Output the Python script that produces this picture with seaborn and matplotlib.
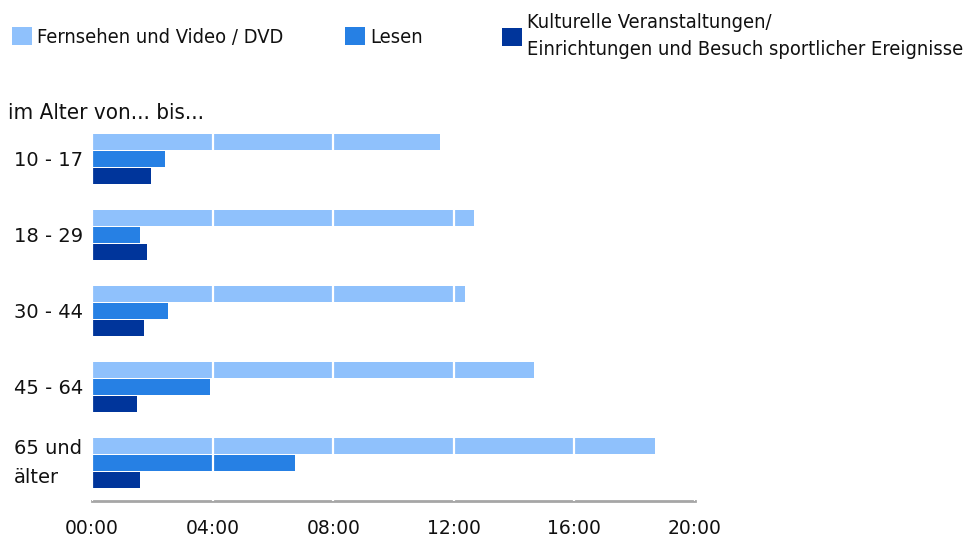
import matplotlib

matplotlib.use("Agg")

import matplotlib.pyplot as plt
import pandas as pd
import seaborn as sns
from matplotlib.font_manager import FontProperties

# Zeitverwendung pro Woche (Std:Min)
age_groups = ["10 - 17", "18 - 29", "30 - 44", "45 - 64", "65 und\nälter"]
activities = [
    "Fernsehen und Video / DVD",
    "Lesen",
    "Kulturelle Veranstaltungen/\nEinrichtungen und Besuch sportlicher Ereignisse",
]
tv_video = ["11:32", "12:40", "12:22", "14:39", "18:40"]
lesen = ["2:25", "1:35", "2:31", "3:55", "6:43"]
kultur = ["1:58", "1:49", "1:43", "1:29", "1:36"]
tick_hours = [0, 4, 8, 12, 16, 20]
colors = ["#8fc1fc", "#2680e4", "#00359b"]


def to_minutes(hhmm: str) -> int:
    h, m = hhmm.split(":")
    return int(h) * 60 + int(m)


def build_frame() -> pd.DataFrame:
    rows = []
    for activity, series in zip(activities, [tv_video, lesen, kultur]):
        for age, value in zip(age_groups, series):
            rows.append({"age": age, "activity": activity, "minutes": to_minutes(value)})
    return pd.DataFrame(rows)


sns.set_theme(style="white")
plt.rcParams["font.family"] = ["DejaVu Sans"]

legend_font = FontProperties(family="DejaVu Sans", stretch="condensed", size=14.4)
label_font = FontProperties(family="DejaVu Sans", stretch="condensed", size=16)

df = build_frame()
fig = plt.figure(figsize=(9.66, 5.37), dpi=100)
ax = fig.add_axes([92 / 966, 1 - 501 / 537, 603 / 966, 380 / 537])

sns.barplot(
    data=df,
    y="age",
    x="minutes",
    hue="activity",
    order=age_groups,
    hue_order=activities,
    orient="h",
    palette=colors,
    saturation=1,
    width=0.67,
    gap=0.06,
    linewidth=0,
    errorbar=None,
    ax=ax,
)

ax.set_xlim(0, tick_hours[-1] * 60)
ax.set_ylim(len(age_groups) - 0.5, -0.5)
ax.set_xticks([h * 60 for h in tick_hours])
ax.set_xticklabels([f"{h:02d}:00" for h in tick_hours], fontsize=13.5, color="#111111")
ax.set_xlabel("")
ax.set_ylabel("")

ax.xaxis.grid(True, color="white", linewidth=1.6)
ax.yaxis.grid(False)
ax.set_axisbelow(False)
for side in ["top", "right", "left"]:
    ax.spines[side].set_visible(False)
ax.spines["bottom"].set_color("#a6a6a6")
ax.spines["bottom"].set_linewidth(2)
ax.tick_params(axis="x", direction="out", length=10, width=1.6, color="#a6a6a6", pad=3)
ax.tick_params(axis="y", length=0, pad=56)
for label in ax.get_yticklabels():
    label.set_fontsize(14)
    label.set_ha("left")
    label.set_color("#111111")
    if "\n" in label.get_text():
        label.set_va("center")
        label.set_linespacing(1.62)

# legend split in two so the third entry sits where the reference puts it
handles, labels = ax.get_legend_handles_labels()
ax.get_legend().remove()
common = dict(
    loc="center left",
    frameon=False,
    handlelength=1.0,
    handleheight=1.0,
    handletextpad=0.27,
    borderaxespad=0,
    borderpad=0,
    prop=legend_font,
)
leg1 = fig.legend(
    handles[:2], labels[:2], ncol=2, columnspacing=3.05,
    bbox_to_anchor=(12 / 966, 1 - 37 / 537), **common,
)
leg2 = fig.legend(
    handles[2:], labels[2:], ncol=1,
    bbox_to_anchor=(502 / 966, 1 - 36 / 537), **common,
)
for leg in (leg1, leg2):
    for text in leg.get_texts():
        text.set_color("#111111")
        text.set_linespacing(1.52)

fig.text(
    8 / 966,
    1 - 113 / 537,
    "im Alter von... bis...",
    fontproperties=label_font,
    va="center",
    ha="left",
    color="#111111",
)

fig.savefig("out.png", dpi=100)
